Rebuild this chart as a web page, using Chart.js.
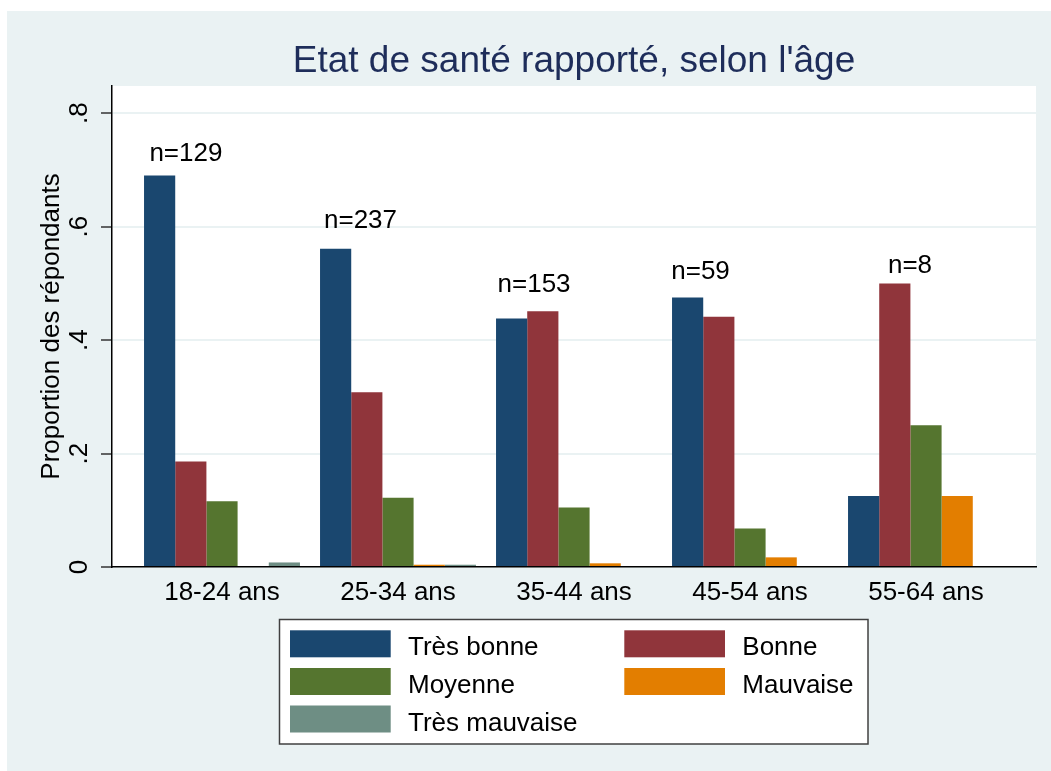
<!DOCTYPE html>
<html>
<head>
<meta charset="utf-8">
<script src="https://cdn.jsdelivr.net/npm/chart.js@4.4.1/dist/chart.umd.min.js"></script>
<style>
html,body{margin:0;padding:0;background:#fff;}
#wrap{width:1051px;height:771px;}
</style>
</head>
<body>
<div id="wrap"><canvas id="c" width="1051" height="771"></canvas></div>
<script>
// ---- data ----
const categories = ["18-24 ans", "25-34 ans", "35-44 ans", "45-54 ans", "55-64 ans"];
const seriesNames = ["Très bonne", "Bonne", "Moyenne", "Mauvaise", "Très mauvaise"];
const tresBonne    = [0.690, 0.561, 0.438, 0.475, 0.125];
const bonne        = [0.186, 0.308, 0.451, 0.441, 0.500];
const moyenne      = [0.116, 0.122, 0.105, 0.068, 0.250];
const mauvaise     = [0.000, 0.004, 0.0065, 0.017, 0.125];
const tresMauvaise = [0.008, 0.004, 0.000, 0.000, 0.000];
const yTickValues = [0, 0.2, 0.4, 0.6, 0.8];
const yTickLabels = ["0", ".2", ".4", ".6", ".8"];
const nLabels = ["n=129", "n=237", "n=153", "n=59", "n=8"];
// annotation anchors in data units (category index, proportion)
const nLabelX = [-0.205, 0.787, 1.773, 2.719, 3.909];
const nLabelY = [0.715, 0.598, 0.485, 0.508, 0.518];

const seriesValues = [tresBonne, bonne, moyenne, mauvaise, tresMauvaise];
const colors = ["#1A476F", "#90353B", "#55752F", "#E37E00", "#6E8E84"];
const FONT = "'Liberation Sans', Arial, Helvetica, sans-serif";

const datasets = seriesNames.map((name, s) => ({
  label: name,
  data: seriesValues[s].map((v, i) => ({x: i, y: v})),
  backgroundColor: colors[s],
  borderWidth: 0,
  categoryPercentage: 0.886,
  barPercentage: 1.0
}));

const bgPlugin = {
  id: 'bg',
  beforeDraw(chart) {
    const {ctx, chartArea: a} = chart;
    ctx.save();
    ctx.fillStyle = '#ffffff';
    ctx.fillRect(0, 0, chart.width, chart.height);
    ctx.fillStyle = '#EAF2F3';
    ctx.fillRect(7, 11, chart.width - 7, chart.height - 11);
    ctx.fillStyle = '#ffffff';
    ctx.fillRect(a.left, a.top, a.right - a.left, a.bottom - a.top);
    ctx.restore();
  }
};

const nPlugin = {
  id: 'nlabels',
  afterDatasetsDraw(chart) {
    const {ctx, scales: {x, y}} = chart;
    ctx.save();
    ctx.font = "26px " + FONT;
    ctx.fillStyle = '#000';
    ctx.textAlign = 'center';
    ctx.textBaseline = 'alphabetic';
    nLabels.forEach((t, i) => {
      ctx.fillText(t, x.getPixelForValue(nLabelX[i]), y.getPixelForValue(nLabelY[i]));
    });
    ctx.restore();
  }
};

const legendPlugin = {
  id: 'customLegend',
  afterDraw(chart) {
    const {ctx} = chart;
    const bx = 279.5, by = 619.5, bw = 588.5, bh = 124.5;
    ctx.save();
    ctx.fillStyle = '#fff';
    ctx.fillRect(bx, by, bw, bh);
    ctx.strokeStyle = '#404040';
    ctx.lineWidth = 1.5;
    ctx.strokeRect(bx, by, bw, bh);
    const colX = [290, 624.3];
    const rowY = [630.3, 668, 705.5];
    ctx.font = "26px " + FONT;
    ctx.textAlign = 'left';
    ctx.textBaseline = 'alphabetic';
    chart.data.datasets.forEach((ds, i) => {
      const cx = colX[i % 2], ry = rowY[Math.floor(i / 2)];
      ctx.fillStyle = ds.backgroundColor;
      ctx.fillRect(cx, ry, 100.7, 27);
      ctx.fillStyle = '#000';
      ctx.fillText(ds.label, cx + 118, ry + 25);
    });
    ctx.restore();
  }
};

new Chart(document.getElementById('c'), {
  type: 'bar',
  data: {datasets},
  plugins: [bgPlugin, nPlugin, legendPlugin],
  options: {
    responsive: false,
    devicePixelRatio: 1,
    animation: false,
    events: [],
    layout: {padding: {left: 0, right: 15, top: 0, bottom: 0}},
    plugins: {
      legend: {display: false},
      tooltip: {enabled: false},
      title: {
        display: true,
        fullSize: false,
        text: "Etat de santé rapporté, selon l'âge",
        color: '#1E2D5A',
        font: {family: FONT, size: 37, weight: 'normal'},
        padding: {top: 40, bottom: 1.6}
      }
    },
    scales: {
      x: {
        type: 'linear',
        min: -0.625,
        max: 4.625,
        offset: false,
        afterBuildTicks(scale) { scale.ticks = categories.map((c, i) => ({value: i})); },
        afterFit(scale) { scale.height = 204; },
        grid: {display: false, drawTicks: false, offset: false},
        border: {display: true, color: '#000', width: 1.5},
        ticks: {
          autoSkip: false,
          maxRotation: 0,
          minRotation: 0,
          padding: 10,
          color: '#000',
          font: {family: FONT, size: 26},
          callback: (v) => categories[v] !== undefined ? categories[v] : ''
        }
      },
      y: {
        type: 'linear',
        min: 0,
        max: 0.848,
        afterBuildTicks(scale) { scale.ticks = yTickValues.map(v => ({value: v})); },
        afterFit(scale) { scale.width = 112; },
        grid: {
          color: (c) => (c.tick && c.tick.value === 0) ? 'rgba(0,0,0,0)' : '#EAF2F3',
          lineWidth: 2,
          drawTicks: true,
          tickLength: 11,
          tickColor: '#333',
          tickWidth: 1.5
        },
        border: {display: true, color: '#000', width: 1.5},
        ticks: {
          minRotation: 90,
          maxRotation: 90,
          crossAlign: 'center',
          padding: 10,
          color: '#000',
          font: {family: FONT, size: 26},
          callback: (v) => { const k = yTickValues.indexOf(v); return k >= 0 ? yTickLabels[k] : ''; }
        },
        title: {
          display: true,
          text: 'Proportion des répondants',
          color: '#000',
          font: {family: FONT, size: 26},
          padding: {top: 36, bottom: 0}
        }
      }
    }
  }
});
</script>
</body>
</html>
